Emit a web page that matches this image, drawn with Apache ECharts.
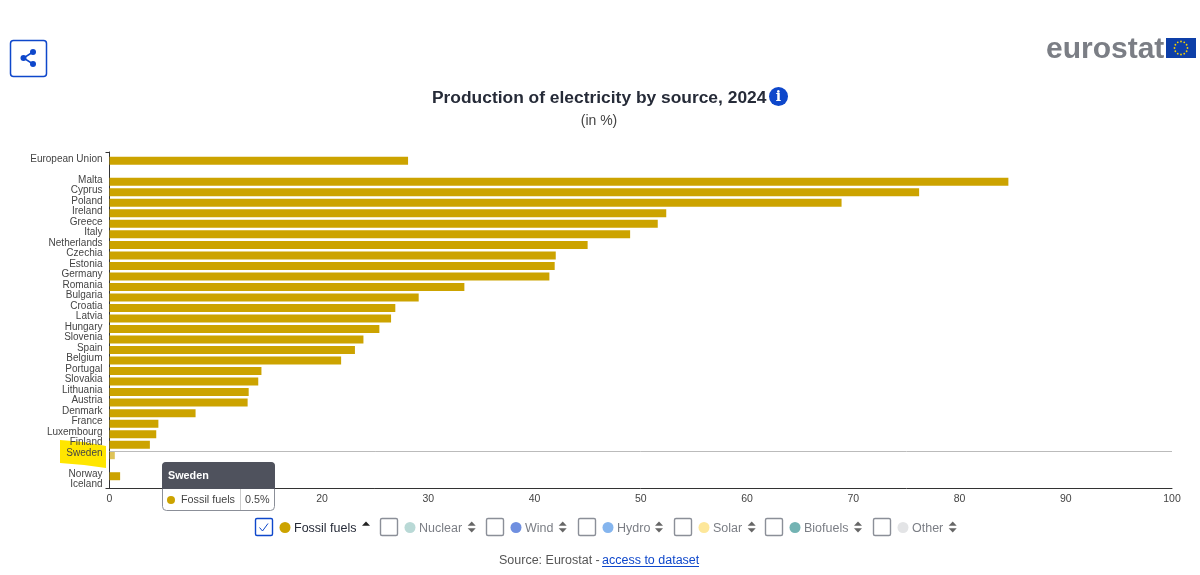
<!DOCTYPE html>
<html><head><meta charset="utf-8">
<style>html,body{margin:0;padding:0;background:#fff}#c{width:1200px;height:575px}</style>
<script src="https://cdn.jsdelivr.net/npm/echarts@6/dist/echarts.min.js"></script></head>
<body><div id="c"></div>
<script>
const categories=['European Union','','Malta','Cyprus','Poland','Ireland','Greece','Italy','Netherlands','Czechia','Estonia','Germany','Romania','Bulgaria','Croatia','Latvia','Hungary','Slovenia','Spain','Belgium','Portugal','Slovakia','Lithuania','Austria','Denmark','France','Luxembourg','Finland','Sweden','','Norway','Iceland'];
const fossilFuels=[28.1,null,84.6,76.2,68.9,52.4,51.6,49.0,45.0,42.0,41.9,41.4,33.4,29.1,26.9,26.5,25.4,23.9,23.1,21.8,14.3,14.0,13.1,13.0,8.1,4.6,4.4,3.8,0.5,null,1.0,0];
const legendNames=['Fossil fuels','Nuclear','Wind','Hydro','Solar','Biofuels','Other'];
const legendColors=['#cca300','#b9d9d6','#6f8fe0','#85b5ee','#fde79a','#73b3b3','#e3e4e6'];
const legendX=[255,380,486,578,674,765,873];
const arrowX=[366,471.7,562.7,659,751.7,858,952.7];
const highlighted='Sweden';
const FONT='"Liberation Sans",Arial,sans-serif';
const BAR='#cca300';
const chart=echarts.init(document.getElementById('c'),null,{renderer:'canvas'});
function T(x,y,text,size,fill,o,z){return {type:'text',x,y,z:z||20,silent:true,style:Object.assign({text,fontSize:size,fill,fontFamily:FONT,textVerticalAlign:'middle'},o||{})};}
const g=[];
g.push({type:'polygon',z:-5,shape:{points:[[60,440],[84,442],[106,446],[106,468],[84,465],[60,463]]},style:{fill:'#ffe600'},silent:true});
g.push({type:'rect',z:20,shape:{x:10.5,y:40.5,width:36,height:36,r:3},style:{fill:'#fff',stroke:'#0e47cb',lineWidth:1.5}});
g.push({type:'polyline',z:21,shape:{points:[[33,52],[23.5,58],[33,64]]},style:{fill:null,stroke:'#0e47cb',lineWidth:1.5}});
[[33,52,3],[23.5,58,3],[33,64,3]].forEach(p=>g.push({type:'circle',z:21,shape:{cx:p[0],cy:p[1],r:p[2]},style:{fill:'#0e47cb'}}));
g.push(T(1046,49.5,'eurostat',30,'#7b7e85',{fontWeight:'bold'}));
g.push({type:'rect',z:20,shape:{x:1166,y:38,width:30,height:20},style:{fill:'#0e3fa8'}});
for(let i=0;i<12;i++){const a=i/12*2*Math.PI;g.push({type:'circle',z:21,shape:{cx:1181+6.5*Math.cos(a),cy:48+6.5*Math.sin(a),r:0.9},style:{fill:'#f5d000'}});}
g.push(T(432,98.5,'Production of electricity by source, 2024',17.4,'#262b38',{fontWeight:'bold'}));
g.push({type:'circle',z:20,shape:{cx:778.5,cy:96.5,r:9.5},style:{fill:'#0e47cb'}});
g.push(T(778.5,97,'i',14,'#fff',{fontWeight:'bold',textAlign:'center',fontFamily:'"DejaVu Serif",serif'}));
g.push(T(599,121.5,'(in %)',14,'#444',{textAlign:'center'}));
g.push({type:'rect',z:30,shape:{x:162.5,y:462.5,width:112,height:48,r:4},style:{fill:'#fff',stroke:'#8b8f98',lineWidth:1}});
g.push({type:'rect',z:31,shape:{x:162,y:462,width:113,height:27,r:[4,4,0,0]},style:{fill:'#4f525d'}});
g.push(T(168,476.5,highlighted,10.8,'#fff',{fontWeight:'bold'},32));
g.push({type:'circle',z:32,shape:{cx:171,cy:500,r:4},style:{fill:BAR}});
g.push(T(181,500.5,'Fossil fuels',10.8,'#444',{},32));
g.push({type:'line',z:32,shape:{x1:240.5,y1:489,x2:240.5,y2:510},style:{stroke:'#ccc',lineWidth:1}});
g.push(T(245,500.5,'0.5%',10.8,'#444',{},32));
legendNames.forEach((n,i)=>{
  const x=legendX[i],on=i===0,tc=on?'#262b38':'#7b7e85';
  g.push({type:'rect',z:20,shape:{x:x+.5,y:518.5,width:17,height:17,r:1.5},style:{fill:'#fff',stroke:on?'#0e47cb':'#8b8f98',lineWidth:1.4}});
  if(on)g.push({type:'polyline',z:21,shape:{points:[[x+4.5,527.5],[x+7.5,531],[x+13,523.5]]},style:{fill:null,stroke:'#0e47cb',lineWidth:1}});
  g.push({type:'circle',z:20,shape:{cx:x+30,cy:527.5,r:5.5},style:{fill:legendColors[i]}});
  g.push(T(x+39,528.5,n,12.5,tc));
  const ax=arrowX[i];
  g.push({type:'polygon',z:20,shape:{points:[[ax-4,525.7],[ax+4,525.7],[ax,521.5]]},style:{fill:on?'#222':'#666'}});
  if(!on)g.push({type:'polygon',z:20,shape:{points:[[ax-4,528.3],[ax+4,528.3],[ax,532.5]]},style:{fill:'#666'}});
});
g.push(T(499,561,'Source: Eurostat - ',12.5,'#555'));
g.push(T(602,561,'access to dataset',12.5,'#0e47cb'));
g.push({type:'line',z:20,shape:{x1:602,y1:566.5,x2:699,y2:566.5},style:{stroke:'#0e47cb',lineWidth:1}});

chart.setOption({
  animation:false,
  axisPointer:{show:false},
  grid:[
    {left:109.5,right:28,top:152,height:336.5},
    {left:109.5,right:28,top:155.5,height:336.5}
  ],
  xAxis:[
    {gridIndex:0,type:'value',min:0,max:100,interval:10,splitLine:{show:false},
     axisLine:{show:true,onZero:false,lineStyle:{color:'#333',width:1}},axisTick:{show:false},
     axisLabel:{color:'#444',fontSize:10.5,fontFamily:FONT,margin:5}},
    {gridIndex:1,type:'value',min:0,max:100,show:false}
  ],
  yAxis:[
    {gridIndex:0,type:'category',inverse:true,data:categories,
     axisLine:{show:true,onZero:false,lineStyle:{color:'#333',width:1}},
     axisTick:{show:true,length:4,interval:i=>i===0||i===categories.length,lineStyle:{color:'#333'}},
     axisLabel:{interval:0,color:'#444',fontSize:10,fontFamily:FONT,margin:7,hideOverlap:false,verticalAlign:'top',lineHeight:3},
     axisPointer:{show:true,type:'line',value:highlighted,status:'show',snap:true,triggerTooltip:false,label:{show:false},lineStyle:{color:'#bbb',width:1,type:'solid'}}},
    {gridIndex:1,type:'category',inverse:true,data:categories,show:false}
  ],
  series:[{name:'Fossil fuels',type:'bar',xAxisIndex:1,yAxisIndex:1,barWidth:8,silent:true,
    data:fossilFuels.map((v,i)=>({value:v,itemStyle:{color:BAR,opacity:categories[i]===highlighted?0.65:1}}))}],
  graphic:{elements:g}
});
</script></body></html>
